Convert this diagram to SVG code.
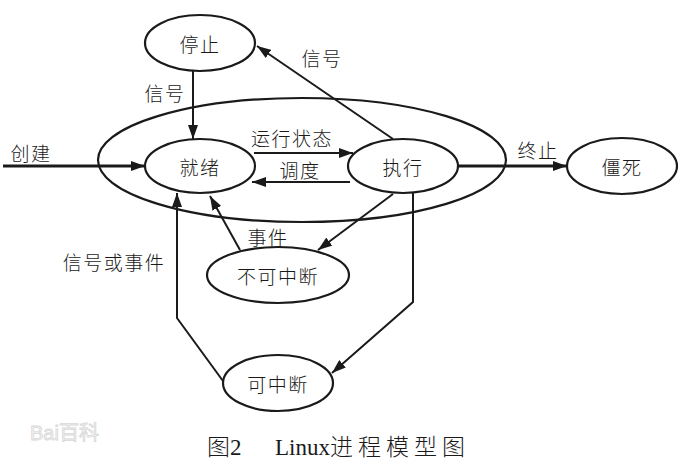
<svg xmlns="http://www.w3.org/2000/svg" width="685" height="468" viewBox="0 0 685 468">
<defs>
<marker id="arr" markerWidth="14" markerHeight="10" refX="14" refY="5" orient="auto" markerUnits="userSpaceOnUse">
<path d="M0,0 L14,5 L0,10 Z" fill="#1a1a1a"/>
</marker>
</defs>
<style>
.node ellipse{fill:none;stroke:#1a1a1a;stroke-width:2.2}
.t{font-family:"Noto Sans CJK SC","Liberation Sans",sans-serif;font-size:19px;font-weight:300;fill:#1a1a1a;text-anchor:middle;dominant-baseline:central;letter-spacing:1.5px}
.c line,.c polyline{stroke:#1a1a1a;stroke-width:2;fill:none}
.thick{stroke-width:3 !important}
</style>
<rect width="685" height="468" fill="#ffffff"/>
<g id="group-boundary" class="node"><ellipse cx="302" cy="160" rx="204" ry="62"/></g>
<g id="node-stop" class="node"><ellipse cx="200" cy="43" rx="55" ry="28"/><text class="t" x="200" y="43">停止</text></g>
<g id="node-ready" class="node"><ellipse cx="200" cy="166" rx="55" ry="27"/><text class="t" x="200" y="166">就绪</text></g>
<g id="node-run" class="node"><ellipse cx="403" cy="166" rx="55" ry="27"/><text class="t" x="403" y="166">执行</text></g>
<g id="node-zombie" class="node"><ellipse cx="622" cy="166" rx="55" ry="28"/><text class="t" x="622" y="166">僵死</text></g>
<g id="node-unint" class="node"><ellipse cx="278" cy="275" rx="71" ry="28"/><text class="t" x="278" y="275">不可中断</text></g>
<g id="node-int" class="node"><ellipse cx="278" cy="383" rx="55" ry="28"/><text class="t" x="278" y="383">可中断</text></g>
<g id="connectors" class="c">
<line class="thick" x1="3" y1="166" x2="145" y2="166" marker-end="url(#arr)"/>
<line x1="193" y1="71" x2="193" y2="139" marker-end="url(#arr)"/>
<line x1="393" y1="139" x2="257" y2="46" marker-end="url(#arr)"/>
<line x1="254" y1="153" x2="353" y2="153" marker-end="url(#arr)"/>
<line x1="350" y1="182" x2="252" y2="182" marker-end="url(#arr)"/>
<line class="thick" x1="458" y1="166" x2="567" y2="166" marker-end="url(#arr)"/>
<line x1="393" y1="194" x2="318" y2="250" marker-end="url(#arr)"/>
<line x1="240" y1="250" x2="210" y2="196" marker-end="url(#arr)"/>
<polyline points="413,193 413,302 332,373" marker-end="url(#arr)"/>
<polyline points="223,381 177,318 177,193" marker-end="url(#arr)"/>
</g>
<g id="labels">
<text class="t" x="165" y="92">信号</text>
<text class="t" x="322" y="57">信号</text>
<text class="t" x="31" y="152">创建</text>
<text class="t" x="292" y="137">运行状态</text>
<text class="t" x="300" y="169">调度</text>
<text class="t" x="538" y="149">终止</text>
<text class="t" x="268" y="236">事件</text>
<text class="t" x="114" y="261">信号或事件</text>
</g>
<text x="30" y="440" font-family="Liberation Sans, Noto Sans CJK SC, sans-serif" font-size="20" fill="#f4f4f4" stroke="#d8d8d8" stroke-width="0.8">Bai百科</text>
<text x="207" y="455" font-family="Liberation Serif, Noto Sans CJK SC, serif" font-size="23" font-weight="300" fill="#1a1a1a">图2<tspan x="275">Linux</tspan><tspan letter-spacing="5">进程模型图</tspan></text>
</svg>
